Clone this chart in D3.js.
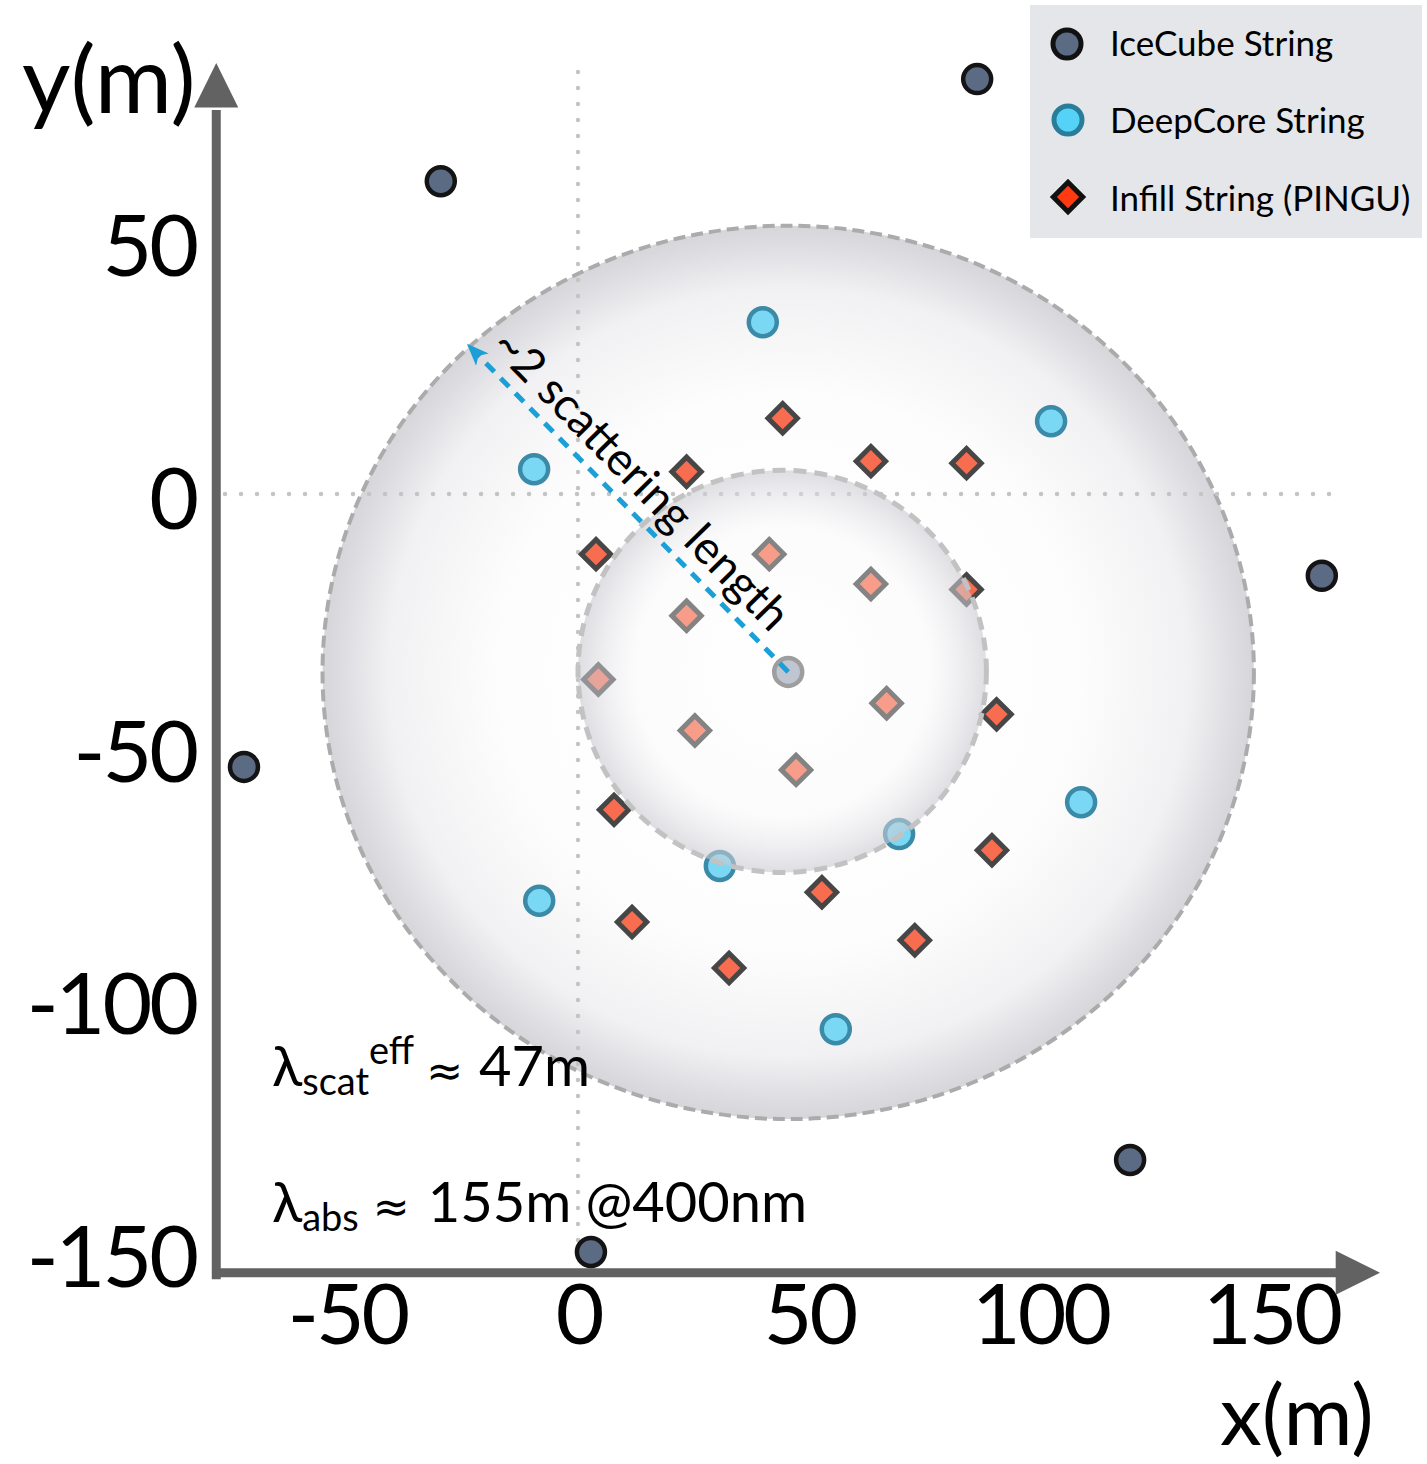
<!DOCTYPE html>
<html>
<head>
<meta charset="utf-8">
<script src="https://cdn.jsdelivr.net/npm/d3@7"></script>
<style>
body { margin: 0; background: #fff; }
svg { display: block; font-family: Lato, "Open Sans", "DejaVu Sans", sans-serif; }
</style>
</head>
<body>
<svg id="chart" width="1427" height="1464"></svg>
<script>

// string positions in metres
var icecubeX = [-29.7, 86.4, 161.0, -72.3, 119.5, 2.8];
var icecubeY = [61.9, 82.1, -16.2, -54.0, -131.8, -150.0];
var centreString = [45.5, -35.2];

var deepcoreX = [40.0, 102.4, -9.5, 108.9, 69.5, 30.7, -8.4, 55.8];
var deepcoreY = [34.0, 14.4, 4.9, -61.0, -67.3, -73.6, -80.5, -105.9];

var infillX = [44.3, 63.4, 84.1, 23.5, 3.9, 90.6, 7.8, 89.6, 52.8, 11.7, 72.9, 32.7,
               41.4, 63.4, 84.1, 23.5, 4.4, 66.8, 25.3, 47.2];
var infillY = [15.0, 6.5, 6.1, 4.4, -11.9, -43.6, -62.5, -70.5, -78.8, -84.7, -88.3, -93.8,
               -11.9, -17.8, -18.9, -24.1, -36.7, -41.4, -46.8, -54.6];

// shaded regions: cx, cy, rx, ry (m)
var outerRegion = [45.5, -35.3, 100.8, 88.4];
var innerRegion = [44.2, -35.1, 44.2, 39.8];
var arrowEnd = [-23.7, 29.4];

var xTicks = [-50, 0, 50, 100, 150];
var yTicks = [50, 0, -50, -100, -150];
var legendLabels = ["IceCube String", "DeepCore String", "Infill String (PINGU)"];

var svg = d3.select("#chart");

var x = d3.scaleLinear().domain([0, 100]).range([578, 1040]),
    y = d3.scaleLinear().domain([0, -150]).range([494, 1252]);

var zip = function (a, b) { return a.map(function (v, i) { return [v, b[i]]; }); };

// gradients + arrow marker
var defs = svg.append("defs");

var og = defs.append("radialGradient").attr("id", "outerGrad");
og.append("stop").attr("offset", "0%").attr("stop-color", "#ffffff");
og.append("stop").attr("offset", "62%").attr("stop-color", "#fdfdfd");
og.append("stop").attr("offset", "86%").attr("stop-color", "#f1f1f3");
og.append("stop").attr("offset", "100%").attr("stop-color", "#d5d5da");

var ig = defs.append("radialGradient").attr("id", "innerGrad");
ig.append("stop").attr("offset", "0%").attr("stop-color", "#ffffff").attr("stop-opacity", 0.32);
ig.append("stop").attr("offset", "72%").attr("stop-color", "#f7f7f9").attr("stop-opacity", 0.35);
ig.append("stop").attr("offset", "100%").attr("stop-color", "#c9c9d0").attr("stop-opacity", 0.6);

defs.append("marker")
    .attr("id", "blueHead")
    .attr("markerUnits", "userSpaceOnUse")
    .attr("viewBox", "0 -10 20 20")
    .attr("refX", 18).attr("refY", 0)
    .attr("markerWidth", 22).attr("markerHeight", 22)
    .attr("orient", "auto")
    .append("path")
    .attr("d", "M0,-8L20,0L0,8L5,0Z")
    .attr("fill", "#1a9fd6");

function ellipse(g, r) {
    return g.append("ellipse")
        .attr("cx", x(r[0])).attr("cy", y(r[1]))
        .attr("rx", x(r[0] + r[2]) - x(r[0]))
        .attr("ry", y(r[1] - r[3]) - y(r[1]));
}

// outer region
ellipse(svg, outerRegion)
    .attr("fill", "url(#outerGrad)")
    .attr("stroke", "#ababab")
    .attr("stroke-width", 4)
    .attr("stroke-dasharray", "12,6");

// dotted lines through the origin
var grid = svg.append("g")
    .attr("stroke", "#c4c4c4")
    .attr("stroke-width", 4.5)
    .attr("stroke-linecap", "round")
    .attr("stroke-dasharray", "0,16");
grid.append("line").attr("x1", x(0)).attr("x2", x(0)).attr("y1", y(83.5)).attr("y2", y(-152));
grid.append("line").attr("x1", x(-76.4)).attr("x2", x(164)).attr("y1", y(0)).attr("y2", y(0));

// axes with arrows
var axisCol = "#626262";
svg.append("line")
    .attr("x1", x(-79.0)).attr("x2", x(165)).attr("y1", y(-154.1)).attr("y2", y(-154.1))
    .attr("stroke", axisCol).attr("stroke-width", 9);
svg.append("path")
    .attr("d", "M" + x(164) + "," + (y(-154.1) - 22) + "L" + x(173.6) + "," + y(-154.1) +
               "L" + x(164) + "," + (y(-154.1) + 22) + "Z")
    .attr("fill", axisCol);
svg.append("line")
    .attr("x1", x(-78.3)).attr("x2", x(-78.3)).attr("y1", y(-155.4)).attr("y2", y(76))
    .attr("stroke", axisCol).attr("stroke-width", 9);
svg.append("path")
    .attr("d", "M" + (x(-78.3) - 22) + "," + y(76.5) + "L" + x(-78.3) + "," + y(85.3) +
               "L" + (x(-78.3) + 22) + "," + y(76.5) + "Z")
    .attr("fill", axisCol);

var fmt = function (d) { return d < 0 ? "-" + Math.abs(d) : String(d); };

var xAxis = svg.append("g")
    .attr("transform", "translate(0," + y(-154.1) + ")")
    .call(d3.axisBottom(x).tickValues(xTicks).tickFormat(fmt).tickSize(0).tickPadding(12));
var yAxis = svg.append("g")
    .attr("transform", "translate(" + x(-78.3) + ",0)")
    .call(d3.axisLeft(y).tickValues(yTicks).tickFormat(fmt).tickSize(0).tickPadding(20));
[xAxis, yAxis].forEach(function (a) {
    a.select(".domain").remove();
    a.selectAll("text")
        .attr("font-family", "Lato, 'Open Sans', sans-serif")
        .attr("font-size", 86)
        .attr("letter-spacing", -3)
        .attr("fill", "#000");
});
xAxis.selectAll("text").attr("font-size", 84);
yAxis.selectAll("text").attr("dy", "0.4em");

svg.append("text").attr("x", 22).attr("y", 113)
    .attr("font-size", 94).text("y(m)");
svg.append("text").attr("x", 1220).attr("y", 1445)
    .attr("font-size", 84).text("x(m)");

// strings
function circles(data, fill, stroke, cls) {
    svg.append("g").attr("class", cls).selectAll("circle")
        .data(data).enter().append("circle")
        .attr("cx", function (d) { return x(d[0]); })
        .attr("cy", function (d) { return y(d[1]); })
        .attr("r", 14)
        .attr("fill", fill)
        .attr("stroke", stroke)
        .attr("stroke-width", 4.5);
}
var diamond = d3.symbol().type(d3.symbolSquare).size(430);

circles(zip(icecubeX, icecubeY), "#5b6b84", "#141414", "icecube");
circles([centreString], "#7d8ca3", "#3a3a3a", "centre");
svg.select(".centre").attr("opacity", 0.72);
circles(zip(deepcoreX, deepcoreY), "#7bd8f4", "#3a8aa8", "deepcore");

svg.append("g").attr("class", "infill").selectAll("path")
    .data(zip(infillX, infillY)).enter().append("path")
    .attr("d", diamond)
    .attr("transform", function (d) { return "translate(" + x(d[0]) + "," + y(d[1]) + ") rotate(45)"; })
    .attr("fill", "#f86c50")
    .attr("stroke", "#464646")
    .attr("stroke-width", 5);

// inner region drawn over the strings
ellipse(svg, innerRegion)
    .attr("fill", "url(#innerGrad)")
    .attr("stroke", "#c2c2c2")
    .attr("stroke-width", 5)
    .attr("stroke-dasharray", "13,8");

// scattering length arrow
var p0 = [x(centreString[0]), y(centreString[1])],
    p1 = [x(arrowEnd[0]), y(arrowEnd[1])];
svg.append("line")
    .attr("x1", p0[0]).attr("y1", p0[1]).attr("x2", p1[0]).attr("y2", p1[1])
    .attr("stroke", "#1a9fd6").attr("stroke-width", 5)
    .attr("stroke-dasharray", "12,9")
    .attr("marker-end", "url(#blueHead)");

var len = Math.hypot(p0[0] - p1[0], p0[1] - p1[1]),
    ux = (p0[0] - p1[0]) / len, uy = (p0[1] - p1[1]) / len,
    ang = Math.atan2(uy, ux) * 180 / Math.PI;
svg.append("text")
    .attr("transform", "translate(" + (p1[0] + 16 * ux + 14 * uy) + "," + (p1[1] + 16 * uy - 14 * ux) + ") rotate(" + ang + ")")
    .attr("font-size", 46)
    .text("~2 scattering length");

// ice properties
var t1 = svg.append("text").attr("x", 272).attr("y", 1086).attr("font-size", 56);
t1.append("tspan").text("λ");
t1.append("tspan").attr("font-size", 38).attr("dy", 9).text("scat");
t1.append("tspan").attr("font-size", 38).attr("dy", -31).text("eff");
t1.append("tspan").attr("dy", 22).attr("dx", 12).attr("font-size", 44)
    .attr("font-family", "'DejaVu Sans', sans-serif").text("≈");
t1.append("tspan").attr("dx", 16).text("47m");

var t2 = svg.append("text").attr("x", 272).attr("y", 1222).attr("font-size", 56);
t2.append("tspan").text("λ");
t2.append("tspan").attr("font-size", 38).attr("dy", 9).text("abs");
t2.append("tspan").attr("dy", -9).attr("dx", 14).attr("font-size", 44)
    .attr("font-family", "'DejaVu Sans', sans-serif").text("≈");
t2.append("tspan").attr("dx", 18).text("155m @400nm");

// legend
var lg = svg.append("g");
lg.append("rect").attr("x", 1030).attr("y", 5).attr("width", 392).attr("height", 233)
    .attr("fill", "#e4e6ea");
lg.append("circle").attr("cx", 1067).attr("cy", 44).attr("r", 14)
    .attr("fill", "#5b6b84").attr("stroke", "#111").attr("stroke-width", 5);
lg.append("circle").attr("cx", 1068).attr("cy", 120).attr("r", 14)
    .attr("fill", "#55d2f8").attr("stroke", "#2a7d99").attr("stroke-width", 5);
lg.append("path").attr("d", diamond)
    .attr("transform", "translate(1068,197) rotate(45)")
    .attr("fill", "#ff3a10").attr("stroke", "#111").attr("stroke-width", 5);
lg.selectAll("text.lab").data(legendLabels).enter().append("text")
    .attr("class", "lab")
    .attr("x", 1110)
    .attr("y", function (d, i) { return [56, 133, 211][i]; })
    .attr("font-size", 35)
    .text(function (d) { return d; });

</script>
</body>
</html>
